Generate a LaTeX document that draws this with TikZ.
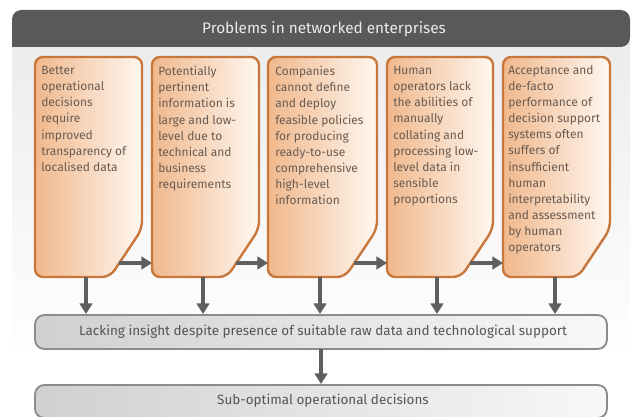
\documentclass[tikz,border=0pt]{standalone}
\usepackage{fontspec}
\setmainfont{Fira Sans}
\usetikzlibrary{arrows.meta}
\definecolor{hdr}{HTML}{595959}
\definecolor{panel}{HTML}{ECECEC}
\definecolor{obord}{HTML}{C8783C}
\definecolor{ofillL}{HTML}{F0B88C}
\definecolor{ofillR}{HTML}{FFF7F0}
\definecolor{otext}{HTML}{6A5C52}
\definecolor{arr}{HTML}{5F5F5F}
\definecolor{gbord}{HTML}{8C8C8C}
\definecolor{gfillL}{HTML}{D0D0D0}
\definecolor{gfillR}{HTML}{F8F8F8}
\definecolor{gtext}{HTML}{555555}
\tikzset{
  probbox/.style={draw=obord, line width=1.8pt, rounded corners=6pt, left color=ofillL, right color=ofillR},
  probtext/.style={anchor=north west, inner sep=0pt, align=left, text=otext, font=\fontsize{9pt}{12.1pt}\selectfont},
  graybox/.style={draw=gbord, line width=1.4pt, rounded corners=7pt, left color=gfillL, right color=gfillR},
  graytext/.style={inner sep=0pt, text=gtext, font=\fontsize{10.1pt}{12pt}\selectfont},
  conn/.style={draw=arr, line width=3.4pt, -{Triangle[width=9.5pt,length=8pt]}},
}
\begin{document}
\begin{tikzpicture}[x=0.75pt,y=-0.75pt]
\useasboundingbox (0,0) rectangle (631,417);
\clip (0,0) rectangle (631,417);
% background panel
\shade[top color=panel, bottom color=white] (12,40) rectangle (630,360);
% header
\fill[hdr, rounded corners=7pt] (12,47) -- (12,10) -- (630,10) -- (630,47) [sharp corners] -- cycle;
\node[inner sep=0pt, text=white!92!black, font=\fontsize{11.5pt}{13pt}\selectfont] (hdrtxt) at (324,29) {Problems in networked enterprises};
% problem boxes
\foreach \i/\L/\R in {1/35/142, 2/152/259, 3/268/377, 4/387/493, 5/503/610}{
  \path[probbox] (\L,57) -- (\R,57) -- (\R,229) -- ({\R-32},277) -- (\L,277) -- cycle;
  \coordinate (b\i out) at ({\R-23},263);
  \coordinate (b\i in) at (\L,263);
}
\node[probtext] (t1) at (41,66) {Better\\operational\\decisions\\require\\improved\\transparency of\\localised data};
\node[probtext] (t2) at (158,66) {Potentially\\pertinent\\information is\\large and low-\\level due to\\technical and\\business\\requirements};
\node[probtext] (t3) at (275,66) {Companies\\cannot define\\and deploy\\feasible policies\\for producing\\ready-to-use\\comprehensive\\high-level\\information};
\node[probtext] (t4) at (393,66) {Human\\operators lack\\the abilities of\\manually\\collating and\\processing low-\\level data in\\sensible\\proportions};
\node[probtext] (t5) at (508,65) {Acceptance and\\de-facto\\performance of\\decision support\\systems often\\suffers of\\insufficient\\human\\interpretability\\and assessment\\by human\\operators};
% gray boxes
\path[graybox] (35,315) rectangle (607,349);
\node[graytext] (lack) at (323,332) {Lacking insight despite presence of suitable raw data and technological support};
\path[graybox] (35,385) rectangle (607,418);
\node[graytext] (sub) at (323,401) {Sub-optimal operational decisions};
% connectors
\foreach \a/\b in {1/2,2/3,3/4,4/5}{
  \draw[conn] (b\a out) -- (b\b in);
}
\foreach \x in {86,203,320,437,555}{
  \coordinate (s\x) at (\x,277);
  \coordinate (e\x) at (\x,314);
  \draw[conn] (s\x) -- (e\x);
}
\coordinate (ls) at (321,349);
\coordinate (le) at (321,384);
\draw[conn] (ls) -- (le);
\end{tikzpicture}
\end{document}
